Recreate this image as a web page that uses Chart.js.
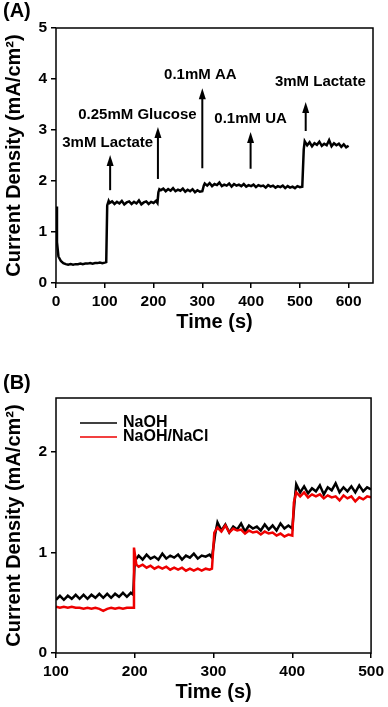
<!DOCTYPE html>
<html>
<head>
<meta charset="utf-8">
<script src="https://cdn.jsdelivr.net/npm/chart.js@4.4.0/dist/chart.umd.min.js"></script>
<style>
  html, body { margin: 0; padding: 0; background: #fff; }
  canvas { display: block; }
</style>
</head>
<body>
<canvas id="chartA" width="388" height="345"></canvas>
<canvas id="chartB" width="388" height="362"></canvas>
<script>
// ---- panel (A): amperometric response, single trace ----
const timeA = [
  0, 2, 5, 10, 15, 20, 25, 30, 35, 40, 45, 50, 55, 60, 65, 70, 75, 80, 85, 90, 95, 100,
  103, 105, 108,
  110, 115, 120, 125, 130, 135, 140, 145, 150, 155, 160, 165, 170, 175, 180, 185, 190, 195, 200, 205,
  208, 210, 212,
  215, 220, 225, 230, 235, 240, 245, 250, 255, 260, 265, 270, 275, 280, 285, 290, 295,
  300, 303,
  305, 310, 315, 320, 325, 330, 335, 340, 345, 350, 355, 360, 365, 370, 375, 380, 385, 390, 395, 400,
  405, 410, 415, 420, 425, 430, 435, 440, 445, 450, 455, 460, 465, 470, 475, 480, 485, 490, 495, 500,
  505, 508,
  510, 515, 520, 525, 530, 535, 540, 545, 550, 555, 560, 565, 570, 575, 580, 585, 590, 595, 600
];
const currentA = [
  1.50, 0.80, 0.52, 0.43, 0.39, 0.37, 0.36, 0.37, 0.36, 0.37, 0.37, 0.38, 0.37, 0.38, 0.38, 0.39, 0.38, 0.39, 0.39, 0.40, 0.39, 0.40,
  0.41, 1.52, 1.61,
  1.57, 1.60, 1.55, 1.59, 1.56, 1.61, 1.54, 1.58, 1.60, 1.55, 1.59, 1.56, 1.62, 1.54, 1.58, 1.60, 1.55, 1.59, 1.57, 1.61,
  1.57, 1.78, 1.84,
  1.82, 1.85, 1.80, 1.84, 1.81, 1.86, 1.80, 1.83, 1.81, 1.85, 1.79, 1.83, 1.80, 1.84, 1.78, 1.82, 1.79,
  1.80, 1.91,
  1.95, 1.91, 1.96, 1.90, 1.94, 1.92, 1.97, 1.90, 1.93, 1.91, 1.95, 1.89, 1.94, 1.91, 1.93, 1.90, 1.94, 1.89, 1.92, 1.90,
  1.93, 1.88, 1.92, 1.90, 1.91, 1.87, 1.92, 1.89, 1.91, 1.87, 1.90, 1.88, 1.91, 1.86, 1.90, 1.87, 1.89, 1.86, 1.90, 1.88,
  1.89, 2.62,
  2.78, 2.70, 2.76, 2.68, 2.74, 2.71, 2.77, 2.69, 2.73, 2.70, 2.80, 2.68, 2.74, 2.70, 2.73, 2.67, 2.72, 2.66, 2.69
];
const xTicksA = [0, 100, 200, 300, 400, 500, 600];
const yTicksA = [0, 1, 2, 3, 4, 5];

// additions marked with arrows
const annotLabels = ["3mM Lactate", "0.25mM Glucose", "0.1mM AA", "0.1mM UA", "3mM Lactate"];
const arrowTimes = [111, 209, 300, 399, 512];
const arrowBase = [1.82, 2.04, 2.25, 2.24, 2.98];
const arrowTip = [2.51, 3.06, 3.82, 2.96, 3.55];
const labelTimes = [106, 167, 296, 399, 542];
const labelLevels = [2.75, 3.29, 4.08, 3.22, 3.94];

// ---- panel (B): NaOH vs NaOH/NaCl ----
const legendNames = ["NaOH", "NaOH/NaCl"];
const seriesColors = ["#000000", "#ee0000"];

const timeNaOH = [
  100, 105, 110, 115, 120, 125, 130, 135, 140, 145, 150, 155, 160, 165, 170, 175, 180, 185, 190, 195,
  198,
  200, 205, 210, 215, 220, 225, 230, 235, 240, 245, 250, 255, 260, 265, 270, 275, 280, 285, 290, 295,
  298, 302,
  305, 310, 315, 320, 325, 330, 335, 340, 345, 350, 355, 360, 365, 370, 375, 380, 385, 390, 395,
  400, 403,
  405, 410, 415, 420, 425, 430, 435, 440, 445, 450, 455, 460, 465, 470, 475, 480, 485, 490, 495, 500
];
const currentNaOH = [
  0.53, 0.57, 0.53, 0.57, 0.54, 0.58, 0.54, 0.58, 0.54, 0.58, 0.55, 0.59, 0.55, 0.59, 0.55, 0.59, 0.56, 0.60, 0.56, 0.60,
  0.58,
  0.92, 0.97, 0.93, 0.98, 0.94, 0.96, 0.93, 0.99, 0.94, 0.97, 0.95, 0.98, 0.93, 0.97, 0.95, 0.99, 0.94, 0.97, 0.96, 0.98,
  0.95, 1.18,
  1.30, 1.22, 1.28, 1.20, 1.26, 1.23, 1.29, 1.21, 1.27, 1.24, 1.26, 1.22, 1.28, 1.23, 1.27, 1.22, 1.29, 1.24, 1.27,
  1.24, 1.52,
  1.68, 1.60, 1.66, 1.59, 1.64, 1.61, 1.67, 1.58, 1.65, 1.62, 1.69, 1.60, 1.65, 1.61, 1.66, 1.60, 1.67, 1.61, 1.65, 1.63
];

const timeNaCl = [
  100, 105, 110, 115, 120, 125, 130, 135, 140, 145, 150, 155, 160, 165, 170, 175, 180, 185, 190, 195,
  198, 199, 202,
  205, 210, 215, 220, 225, 230, 235, 240, 245, 250, 255, 260, 265, 270, 275, 280, 285, 290, 295,
  298, 301,
  305, 310, 315, 320, 325, 330, 335, 340, 345, 350, 355, 360, 365, 370, 375, 380, 385, 390, 395,
  400, 402,
  405, 410, 415, 420, 425, 430, 435, 440, 445, 450, 455, 460, 465, 470, 475, 480, 485, 490, 495, 500
];
const currentNaCl = [
  0.46, 0.45, 0.46, 0.45, 0.46, 0.45, 0.45, 0.44, 0.45, 0.44, 0.45, 0.44, 0.42, 0.44, 0.45, 0.44, 0.45, 0.44, 0.45, 0.45,
  0.45, 1.05, 0.88,
  0.86, 0.88, 0.85, 0.87, 0.84, 0.86, 0.84, 0.86, 0.83, 0.85, 0.83, 0.85, 0.82, 0.84, 0.82, 0.84, 0.82, 0.84, 0.83,
  0.84, 1.20,
  1.25, 1.21, 1.27, 1.20, 1.24, 1.22, 1.23, 1.19, 1.22, 1.20, 1.21, 1.18, 1.21, 1.19, 1.20, 1.17, 1.19, 1.16, 1.18,
  1.17, 1.50,
  1.60, 1.56, 1.60, 1.55, 1.58, 1.56, 1.58, 1.54, 1.57, 1.55, 1.56, 1.52, 1.57, 1.54, 1.56, 1.51, 1.55, 1.53, 1.56, 1.55
];
const xTicksB = [100, 200, 300, 400, 500];
const yTicksB = [0, 1, 2];

const FONT = "'Liberation Sans', Arial, sans-serif";
const yTitle = "Current Density (mA/cm\u00b2)";

const toPoints = (xs, ys) => xs.map((t, i) => ({ x: t, y: ys[i] }));

// box round the plot + panel tag
const framePlugin = {
  id: "frame",
  afterDraw(chart, args, opts) {
    const { ctx, chartArea: a } = chart;
    ctx.save();
    ctx.strokeStyle = "#000";
    ctx.lineWidth = 1.5;
    ctx.strokeRect(a.left, a.top, a.right - a.left, a.bottom - a.top);
    ctx.fillStyle = "#000";
    ctx.font = "bold 20px " + FONT;
    ctx.textBaseline = "middle";
    ctx.fillText(opts.tag, 3, opts.tagY);
    ctx.restore();
  }
};

const arrowPlugin = {
  id: "arrows",
  afterDatasetsDraw(chart) {
    const { ctx, scales: { x, y } } = chart;
    ctx.save();
    ctx.strokeStyle = "#000";
    ctx.fillStyle = "#000";
    ctx.lineWidth = 2;
    arrowTimes.forEach((t, i) => {
      const px = x.getPixelForValue(t);
      const y0 = y.getPixelForValue(arrowBase[i]);
      const y1 = y.getPixelForValue(arrowTip[i]);
      ctx.beginPath();
      ctx.moveTo(px, y0);
      ctx.lineTo(px, y1 + 8);
      ctx.stroke();
      ctx.beginPath();
      ctx.moveTo(px, y1);
      ctx.lineTo(px - 3.5, y1 + 11);
      ctx.lineTo(px + 3.5, y1 + 11);
      ctx.closePath();
      ctx.fill();
    });
    ctx.font = "bold 15px " + FONT;
    ctx.textAlign = "center";
    ctx.textBaseline = "middle";
    annotLabels.forEach((s, i) => {
      ctx.fillText(s, x.getPixelForValue(labelTimes[i]), y.getPixelForValue(labelLevels[i]));
    });
    ctx.restore();
  }
};

const legendPlugin = {
  id: "inlegend",
  afterDraw(chart) {
    const { ctx, chartArea: a } = chart;
    ctx.save();
    ctx.font = "bold 16px " + FONT;
    ctx.textBaseline = "middle";
    legendNames.forEach((name, i) => {
      const yy = a.top + 25 + i * 14;
      ctx.strokeStyle = seriesColors[i];
      ctx.lineWidth = 1.5;
      ctx.beginPath();
      ctx.moveTo(a.left + 24, yy);
      ctx.lineTo(a.left + 61, yy);
      ctx.stroke();
      ctx.fillStyle = "#000";
      ctx.fillText(name, a.left + 67, yy);
    });
    ctx.restore();
  }
};

function axis(opts) {
  return {
    type: "linear",
    min: opts.min,
    max: opts.max,
    afterBuildTicks: s => { s.ticks = opts.ticks.map(v => ({ value: v })); },
    afterFit: opts.fit,
    ticks: {
      color: "#000",
      padding: 4,
      maxRotation: 0,
      font: { family: FONT, size: 15.5, weight: "bold" }
    },
    grid: { drawOnChartArea: false, drawTicks: true, tickLength: 5, color: "#000", lineWidth: 1.5 },
    border: { display: false },
    title: {
      display: true,
      text: opts.title,
      color: "#000",
      padding: opts.titlePad,
      font: { family: FONT, size: 20, weight: "bold", lineHeight: 1.2 }
    }
  };
}

const common = {
  responsive: false,
  animation: false,
  events: [],
  elements: { point: { radius: 0 }, line: { tension: 0 } }
};

new Chart(document.getElementById("chartA"), {
  type: "line",
  data: {
    datasets: [{
      data: toPoints(timeA, currentA),
      borderColor: "#000",
      borderWidth: 2.5
    }]
  },
  options: {
    ...common,
    layout: { padding: { top: 28, right: 15, left: 0, bottom: 0 } },
    plugins: {
      legend: { display: false },
      tooltip: { enabled: false },
      frame: { tag: "(A)", tagY: 11 }
    },
    scales: {
      x: axis({ min: 0, max: 650, ticks: xTicksA, title: "Time (s)", titlePad: { top: 0, bottom: 11 },
                fit: s => { s.height = 62; } }),
      y: axis({ min: 0, max: 5, ticks: yTicksA, title: yTitle, titlePad: { top: 2, bottom: 0 },
                fit: s => { s.width = 56; } })
    }
  },
  plugins: [framePlugin, arrowPlugin]
});

new Chart(document.getElementById("chartB"), {
  type: "line",
  data: {
    datasets: [
      { label: legendNames[0], data: toPoints(timeNaOH, currentNaOH), borderColor: seriesColors[0], borderWidth: 2.5, order: 2 },
      { label: legendNames[1], data: toPoints(timeNaCl, currentNaCl), borderColor: seriesColors[1], borderWidth: 2.5, order: 1 }
    ]
  },
  options: {
    ...common,
    layout: { padding: { top: 53, right: 15, left: 0, bottom: 0 } },
    plugins: {
      legend: { display: false },
      tooltip: { enabled: false },
      frame: { tag: "(B)", tagY: 38 }
    },
    scales: {
      x: axis({ min: 100, max: 500, ticks: xTicksB, title: "Time (s)", titlePad: { top: 0, bottom: 3 },
                fit: s => { s.height = 54; } }),
      y: axis({ min: 0, max: 2.54, ticks: yTicksB, title: yTitle, titlePad: { top: 2, bottom: 0 },
                fit: s => { s.width = 56; } })
    }
  },
  plugins: [framePlugin, legendPlugin]
});
</script>
</body>
</html>
